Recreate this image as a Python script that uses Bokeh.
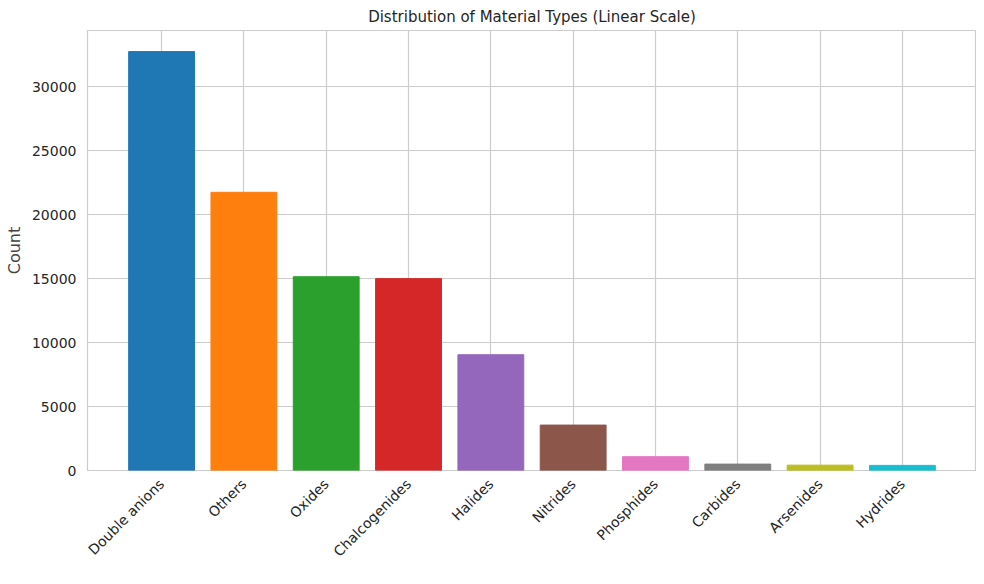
from bokeh.plotting import figure
from bokeh.models import ColumnDataSource, FactorRange
from bokeh.embed import file_html
from bokeh.resources import INLINE
import math

# data
types = ["Double anions", "Others", "Oxides", "Chalcogenides", "Halides",
         "Nitrides", "Phosphides", "Carbides", "Arsenides", "Hydrides"]
counts = [32750, 21750, 15150, 15000, 9050, 3550, 1080, 500, 420, 400]
colors = ["#1f77b4", "#ff7f0e", "#2ca02c", "#d62728", "#9467bd",
          "#8c564b", "#e377c2", "#7f7f7f", "#bcbd22", "#17becf"]

src = ColumnDataSource(dict(types=types, counts=counts, colors=colors))

p = figure(x_range=FactorRange(*types, range_padding=0.08), y_range=(0, 34400),
           width=976, height=568,
           output_backend="svg", toolbar_location=None,
           title="Distribution of Material Types (Linear Scale)")
p.vbar(x="types", top="counts", width=0.8, color="colors", source=src)

p.title.align = "center"
p.title.text_font = "DejaVu Sans"
p.title.text_font_size = "15px"
p.title.text_font_style = "normal"
p.title.text_color = "#262626"
p.yaxis.axis_label = "Count"
p.yaxis.axis_label_text_font_size = "16px"
p.yaxis.axis_label_text_font_style = "normal"
p.yaxis.axis_label_text_font = "DejaVu Sans"
p.yaxis.ticker = [0, 5000, 10000, 15000, 20000, 25000, 30000]
p.xaxis.major_label_orientation = math.pi / 4
for ax in (p.xaxis, p.yaxis):
    ax.major_label_text_font = "DejaVu Sans"
    ax.major_label_text_font_size = "14px"
    ax.major_label_text_color = "#262626"
    ax.axis_line_color = None
    ax.major_tick_line_color = None
    ax.minor_tick_line_color = None
p.xgrid.grid_line_color = "#cccccc"
p.ygrid.grid_line_color = "#cccccc"
p.xgrid.grid_line_width = 1.2
p.ygrid.grid_line_width = 1.2
p.outline_line_color = "#cccccc"
p.outline_line_width = 1.2
p.background_fill_color = "white"
p.min_border_left = 87
p.min_border_right = 0

open("out.html", "w").write(file_html(p, INLINE))
